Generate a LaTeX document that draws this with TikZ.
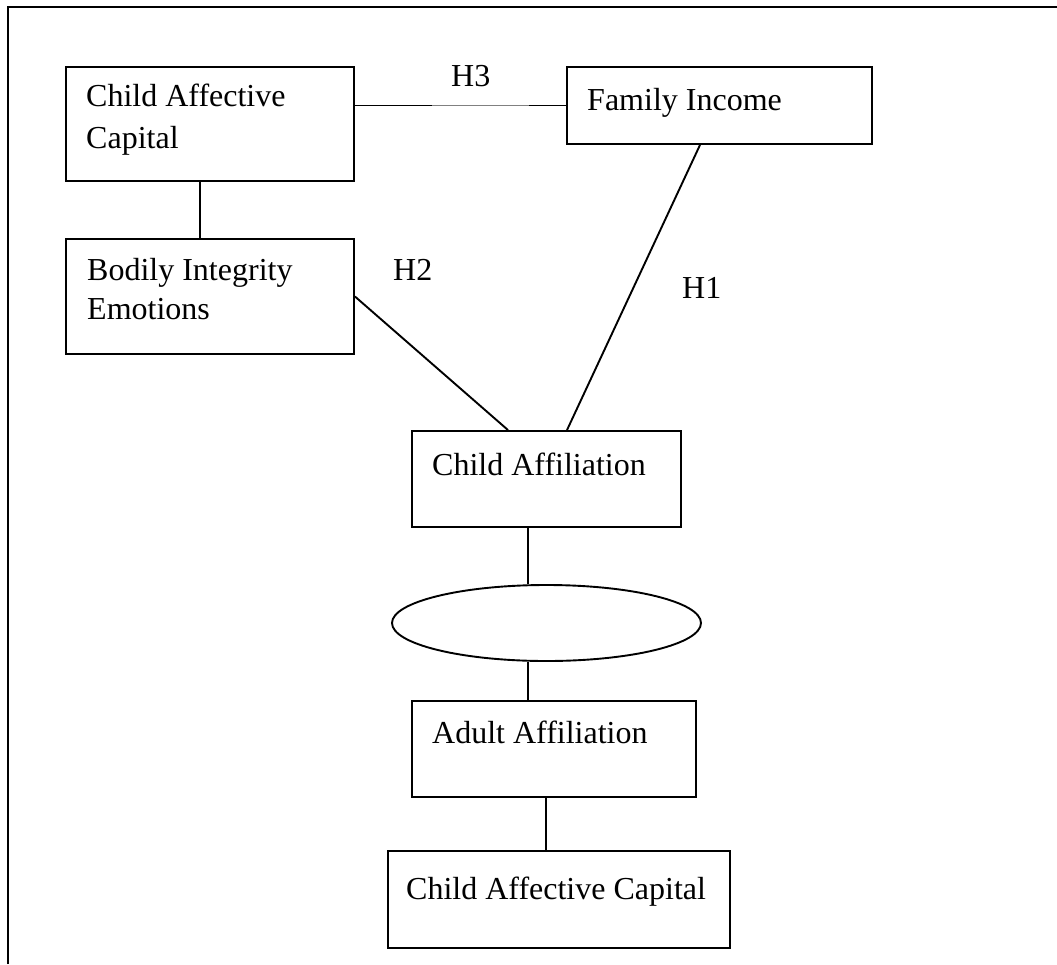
\documentclass[tikz,border=0pt]{standalone}
\usepackage{fontspec}
\setmainfont{Liberation Serif}
\usetikzlibrary{shapes.geometric}
\begin{document}
\begin{tikzpicture}[x=1pt,y=-1pt,
  box/.style={draw,line width=1.9pt,rectangle,inner sep=0pt},
  oval/.style={draw,line width=1.9pt,ellipse,inner sep=0pt},
  lbl/.style={inner sep=0pt,anchor=base west,font=\fontsize{32}{42}\selectfont},
  link/.style={line width=1.9pt},
  thin/.style={line width=0.9pt,gray}]
\useasboundingbox (0,0) rectangle (1057,964);
% frame
\coordinate (fa) at (8,964);
\coordinate (fb) at (8,7);
\coordinate (fc) at (1057,7);
\draw[line width=2.2pt] (fa) -- (fb) -- (fc);
% boxes
\node[box,minimum width=288,minimum height=114] (A) at (210,124) {};
\node[box,minimum width=305,minimum height=77] (B) at (719.5,105.5) {};
\node[box,minimum width=288,minimum height=115] (C) at (210,296.5) {};
\node[box,minimum width=269,minimum height=96] (D) at (546.5,479) {};
\node[oval,minimum width=309,minimum height=76] (O) at (546.5,623) {};
\node[box,minimum width=284,minimum height=96] (E) at (554,749) {};
\node[box,minimum width=342,minimum height=97] (F) at (559,899.5) {};
% texts
\node[lbl] (tA1) at (86,106) {Child Affective};
\node[lbl] (tA2) at (86,148) {Capital};
\node[lbl] (tB) at (587,110) {Family Income};
\node[lbl] (tC1) at (87,280) {Bodily Integrity};
\node[lbl] (tC2) at (87,319) {Emotions};
\node[lbl] (tD) at (432,475) {Child Affiliation};
\node[lbl] (tE) at (432,743) {Adult Affiliation};
\node[lbl] (tF) at (406,899) {Child Affective Capital};
\node[lbl] (h3) at (451,86) {H3};
\node[lbl] (h2) at (393,280) {H2};
\node[lbl] (h1) at (682,298) {H1};
% connectors
\coordinate (h3a) at (432,105.5);
\coordinate (h3b) at (529,105.5);
\draw[link] (A.east |- B.west) -- (h3a);
\draw[thin] (h3a) -- (h3b);
\draw[link] (h3b) -- (B.west);
\draw[link] ([xshift=-10pt]A.south) -- ([xshift=-10pt]C.north);
\draw[link] (C.east) -- ([xshift=-38.5pt]D.north);
\draw[link] ([xshift=-19.5pt]B.south) -- ([xshift=20.5pt]D.north);
\draw[link] ([xshift=-18.5pt]D.south) -- ([xshift=-18.5pt]D.south |- O.north);
\draw[link] ([xshift=-18.5pt]O.south) -- ([xshift=-18.5pt]O.south |- E.north);
\draw[link] ([xshift=-8pt]E.south) -- ([xshift=-8pt]E.south |- F.north);
\end{tikzpicture}
\end{document}
